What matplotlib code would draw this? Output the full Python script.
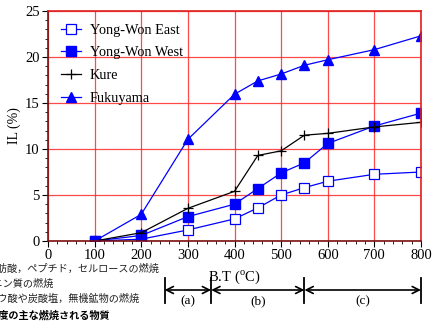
import numpy as np
import matplotlib
matplotlib.use("Agg")
import matplotlib.pyplot as plt
from matplotlib.transforms import blended_transform_factory
from matplotlib.ticker import MultipleLocator

# ---- data ----
temps = [100, 200, 300, 400, 450, 500, 550, 600, 700, 800]
yong_won_east = [0.0, 0.2, 1.2, 2.4, 3.6, 5.0, 5.8, 6.5, 7.25, 7.5]
yong_won_west = [0.0, 0.6, 2.65, 4.0, 5.7, 7.4, 8.5, 10.6, 12.5, 13.9]
kure = [0.0, 0.9, 3.55, 5.4, 9.3, 9.8, 11.5, 11.7, 12.4, 12.9]
fukuyama = [0.0, 2.9, 11.05, 15.95, 17.4, 18.15, 19.1, 19.7, 20.8, 22.3]

stage_bounds = [250, 350, 550, 800]
stage_labels = ["(a)", "(b)", "(c)"]

notes = [
    "(a) 脂肪酸，ペプチド，セルロースの燃焼",
    "(b) リグニン質の燃焼",
    "(c) シュウ酸や炭酸塩，無機鉱物の燃焼",
]
notes_title = "各温度の主な燃焼される物質"

plt.rcParams["font.family"] = ["Liberation Serif", "DejaVu Serif"]
plt.rcParams["mathtext.fontset"] = "custom"
plt.rcParams["mathtext.rm"] = "Liberation Serif"

fig = plt.figure(figsize=(4.33, 3.23), dpi=100)
ax = fig.add_axes([48 / 433, 1 - 241 / 323, 373 / 433, 230 / 323])

blue = "#0000ff"
ax.plot(temps, yong_won_east, color=blue, lw=0.9, marker="s", ms=6.5,
        mfc="white", mec=blue, mew=0.9, label="Yong-Won East")
ax.plot(temps, yong_won_west, color=blue, lw=0.9, marker="s", ms=6.5,
        mfc=blue, mec=blue, label="Yong-Won West")
ax.plot(temps, kure, color="black", lw=0.9, marker="+", ms=7, mew=0.9,
        label="Kure")
ax.plot(temps, fukuyama, color=blue, lw=0.9, marker="^", ms=7.5,
        mfc=blue, mec=blue, label="Fukuyama")

ax.set_xlim(0, 800)
ax.set_ylim(0, 25)
ax.xaxis.set_major_locator(MultipleLocator(100))
ax.xaxis.set_minor_locator(MultipleLocator(20))
ax.yaxis.set_major_locator(MultipleLocator(5))
ax.yaxis.set_minor_locator(MultipleLocator(1))
ax.grid(True, which="major", color="#ff2a2a", lw=0.9, alpha=0.85)
ax.set_axisbelow(True)

for side in ["left", "bottom"]:
    ax.spines[side].set_color("#7a1010")
    ax.spines[side].set_linewidth(1.2)
for side in ["top", "right"]:
    ax.spines[side].set_color("#e02020")
    ax.spines[side].set_linewidth(1.2)

ax.tick_params(which="major", direction="out", length=4, width=0.8,
               labelsize=10.5, colors="black", pad=2)
ax.tick_params(which="minor", direction="out", length=2, width=0.6)

ax.set_ylabel("IL (%)", fontsize=10, labelpad=3)
ax.set_xlabel("B.T ($^{\\rm o}$C)", fontsize=10.5)
ax.xaxis.set_label_coords(0.5, -0.12)

ax.legend(loc="upper left", frameon=False, fontsize=10.3,
          handlelength=1.35, handletextpad=0.65, labelspacing=0.68,
          borderaxespad=0.4, bbox_to_anchor=(0.005, 0.995))

# ---- stage arrows below the axis ----
tr = blended_transform_factory(ax.transData, fig.transFigure)
y_arrow = 1 - 290 / 323
for xb in stage_bounds:
    ax.plot([xb, xb], [1 - 278 / 323, 1 - 303 / 323], color="black", lw=1.3,
            transform=tr, clip_on=False)
for i, lab in enumerate(stage_labels):
    x0, x1 = stage_bounds[i], stage_bounds[i + 1]
    ax.annotate("", xy=(x1, y_arrow), xytext=(x0, y_arrow),
                xycoords=tr, textcoords=tr,
                arrowprops=dict(arrowstyle="<->,head_length=0.5,head_width=0.25",
                                color="black", lw=1.2, shrinkA=0, shrinkB=0))
    ax.text((x0 + x1) / 2, 1 - 301 / 323, lab, transform=tr, ha="center",
            va="center", fontsize=9.5)

# ---- Japanese notes, partly cut off at the left edge (as in the source) ----
note_ends = [159, 53, 139]
note_ys = [268, 283, 298]
for txt, xe, yp in zip(notes, note_ends, note_ys):
    fig.text(xe / 433, 1 - yp / 323, txt, ha="right", va="center",
             fontsize=7.3, color="#222222",
             family=["Noto Sans CJK JP", "DejaVu Sans"])
fig.text(110 / 433, 1 - 315 / 323, notes_title, ha="right", va="center",
         fontsize=7.3, color="black", fontweight="bold",
         family=["Noto Sans CJK JP", "DejaVu Sans"])

fig.savefig("out.png", dpi=100)
